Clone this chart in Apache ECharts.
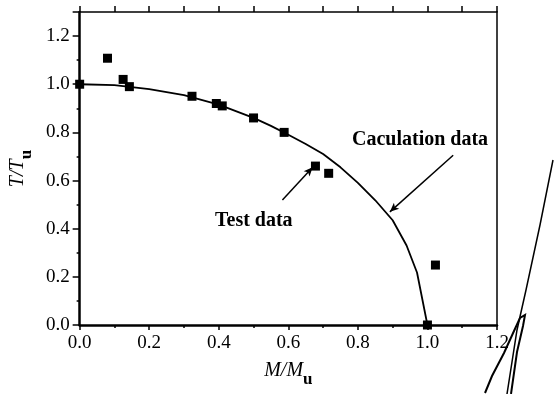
<!DOCTYPE html>
<html>
<head>
<meta charset="utf-8">
<script src="https://cdn.jsdelivr.net/npm/echarts@6/dist/echarts.min.js"></script>
<style>
  html, body { margin: 0; padding: 0; background: #fff; }
  #chart { width: 558px; height: 394px; }
</style>
</head>
<body>
<div id="chart"></div>
<script>
  // test points (M/Mu, T/Tu)
  var testX = [0, 0.08, 0.125, 0.143, 0.323, 0.393, 0.41, 0.5, 0.588, 0.678, 0.716, 1.023, 1.0];
  var testY = [1.0, 1.108, 1.02, 0.99, 0.95, 0.92, 0.91, 0.86, 0.80, 0.66, 0.63, 0.249, 0.0];

  // calculation curve
  var calcX = [0, 0.1, 0.2, 0.3, 0.4, 0.5, 0.55, 0.6, 0.65, 0.7, 0.75, 0.8, 0.85, 0.9, 0.94, 0.97, 1.0];
  var calcY = [1.0, 0.996, 0.98, 0.955, 0.915, 0.86, 0.827, 0.79, 0.752, 0.71, 0.655, 0.59, 0.518, 0.435, 0.33, 0.218, 0.0];

  var xTicks = ["0.0", "0.2", "0.4", "0.6", "0.8", "1.0", "1.2"];
  var yTicks = ["0.0", "0.2", "0.4", "0.6", "0.8", "1.0", "1.2"];

  var serif = "'Liberation Serif', 'DejaVu Serif', serif";

  var chart = echarts.init(document.getElementById("chart"), null, { renderer: "canvas" });

  var labelStyle = { color: "#000", fontFamily: serif, fontSize: 19 };

  var nameRich = {
    i: { fontFamily: serif, fontStyle: "italic", fontSize: 20, color: "#000", lineHeight: 22, verticalAlign: "top" },
    s: { fontFamily: serif, fontWeight: "bold", fontSize: 17, color: "#000", lineHeight: 27, verticalAlign: "bottom" }
  };

  var options = {
    animation: false,
    backgroundColor: "#fff",
    grid: { left: 78, right: 61, top: 12, bottom: 69 },
    xAxis: [{
      type: "value",
      min: 0, max: 1.2, interval: 0.2,
      position: "bottom",
      name: "{i|M/M}{s|u}",
      nameLocation: "middle",
      nameGap: 36,
      nameTextStyle: { rich: nameRich },
      axisLine: { show: true, onZero: false, lineStyle: { color: "#000", width: 2.5 } },
      axisTick: { show: true, inside: false, length: 5, lineStyle: { color: "#000", width: 1.5 } },
      minorTick: { show: true, splitNumber: 2, length: 3, lineStyle: { color: "#000", width: 1.5 } },
      splitLine: { show: false },
      axisLabel: Object.assign({ margin: 9, formatter: function (v) { return xTicks[Math.round(v / 0.2)] || ""; } }, labelStyle)
    }, {
      type: "value",
      min: 0, max: 1.2, interval: 0.1,
      position: "top",
      axisLine: { show: true, onZero: false, lineStyle: { color: "#000", width: 1.5 } },
      axisTick: { show: true, inside: false, length: 6, lineStyle: { color: "#000", width: 1.5 } },
      splitLine: { show: false },
      axisLabel: { show: false }
    }],
    yAxis: [{
      type: "value",
      min: 0, max: 1.3, interval: 0.2,
      position: "left",
      name: "{i|T/T}{s|u}",
      nameLocation: "middle",
      nameRotate: 90,
      nameGap: 42,
      nameTextStyle: { rich: nameRich },
      axisLine: { show: true, onZero: false, lineStyle: { color: "#000", width: 2.5 } },
      axisTick: { show: true, inside: false, length: 7, lineStyle: { color: "#000", width: 1.5 } },
      minorTick: { show: true, splitNumber: 2, length: 3, lineStyle: { color: "#000", width: 1.5 } },
      splitLine: { show: false },
      axisLabel: Object.assign({ margin: 10, showMaxLabel: false, formatter: function (v) {
        var i = Math.round(v / 0.2);
        return Math.abs(v - i * 0.2) < 1e-6 ? (yTicks[i] || "") : "";
      } }, labelStyle)
    }, {
      type: "value",
      min: 0, max: 1.3,
      position: "right",
      axisLine: { show: true, onZero: false, lineStyle: { color: "#000", width: 1.5 } },
      axisTick: { show: false },
      splitLine: { show: false },
      axisLabel: { show: false }
    }],
    series: [{
      name: "Caculation data",
      type: "line",
      data: calcX.map(function (x, i) { return [x, calcY[i]]; }),
      showSymbol: false,
      smooth: false,
      lineStyle: { color: "#000", width: 1.8 },
      markLine: {
        silent: true,
        symbol: ["none", "arrow"],
        symbolSize: [6, 9],
        label: { show: false },
        lineStyle: { color: "#000", width: 1.5, type: "solid" },
        data: [
          [{ coord: [1.074, 0.705] }, { coord: [0.892, 0.47] }],
          [{ coord: [0.583, 0.519] }, { coord: [0.67, 0.655] }]
        ]
      },
      z: 2
    }, {
      name: "Test data",
      type: "scatter",
      data: testX.map(function (x, i) { return [x, testY[i]]; }),
      symbol: "rect",
      symbolSize: 9,
      itemStyle: { color: "#000", opacity: 1 },
      z: 3
    }],
    graphic: [{
      type: "text",
      left: 352, top: 130,
      style: { text: "Caculation data", fill: "#000", font: "bold 20px " + serif }
    }, {
      type: "text",
      left: 215, top: 211,
      style: { text: "Test data", fill: "#000", font: "bold 20px " + serif }
    }, {
      // scanning stroke at the right edge of the figure
      type: "polyline",
      shape: { points: [[553, 160], [540, 225], [526, 290], [517, 330], [507, 394]] },
      style: { stroke: "#000", lineWidth: 1.5, fill: null }
    }, {
      type: "polyline",
      shape: { points: [[485, 393], [492, 376], [504, 353], [514, 331], [520, 318], [525, 315], [523, 326], [517, 352], [511, 394]] },
      style: { stroke: "#000", lineWidth: 2, fill: null }
    }]
  };

  chart.setOption(options);
</script>
</body>
</html>
